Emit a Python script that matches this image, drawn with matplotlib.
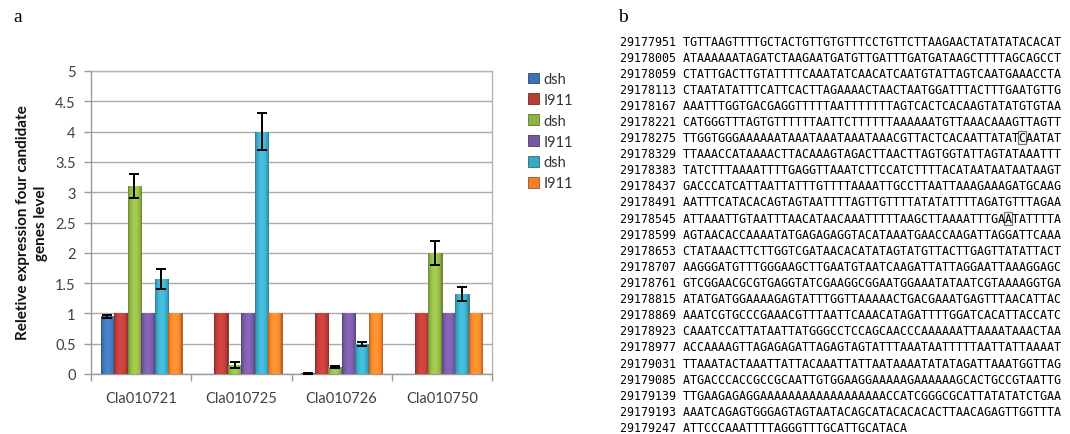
import matplotlib
matplotlib.use('Agg')
import matplotlib.pyplot as plt
import numpy as np
from matplotlib.patches import Rectangle, Patch
import matplotlib.colors as mcolors

# ---------------- data (panel a) ----------------
genes = ['Cla010721', 'Cla010725', 'Cla010726', 'Cla010750']
series_labels = ['dsh', 'I911', 'dsh', 'I911', 'dsh', 'I911']
series_colors = ['#3F72B0', '#B83C38', '#8FB244', '#7558A0', '#3BA6C2', '#F0812A']

dsh_1 = [0.95, 0.0, 0.01, 0.0]
i911_1 = [1.0, 1.0, 1.0, 1.0]
dsh_2 = [3.1, 0.15, 0.12, 2.0]
i911_2 = [1.0, 1.0, 1.0, 1.0]
dsh_3 = [1.57, 4.0, 0.5, 1.32]
i911_3 = [1.0, 1.0, 1.0, 1.0]

err_dsh_1 = [0.03, 0.0, 0.005, 0.0]
err_i911_1 = [0.0, 0.0, 0.0, 0.0]
err_dsh_2 = [0.2, 0.05, 0.02, 0.2]
err_i911_2 = [0.0, 0.0, 0.0, 0.0]
err_dsh_3 = [0.17, 0.3, 0.03, 0.12]
err_i911_3 = [0.0, 0.0, 0.0, 0.0]

yticks = [0, 0.5, 1, 1.5, 2, 2.5, 3, 3.5, 4, 4.5, 5]
ytick_labels = ['0', '0.5', '1', '1.5', '2', '2.5', '3', '3.5', '4', '4.5', '5']

# ---------------- data (panel b) ----------------
seq_starts = [29177951, 29178005, 29178059, 29178113, 29178167, 29178221,
              29178275, 29178329, 29178383, 29178437, 29178491, 29178545,
              29178599, 29178653, 29178707, 29178761, 29178815, 29178869,
              29178923, 29178977, 29179031, 29179085, 29179139, 29179193,
              29179247]
seq_lines = [
    'TGTTAAGTTTTGCTACTGTTGTGTTTCCTGTTCTTAAGAACTATATATACACAT',
    'ATAAAAAATAGATCTAAGAATGATGTTGATTTGATGATAAGCTTTTAGCAGCCT',
    'CTATTGACTTGTATTTTCAAATATCAACATCAATGTATTAGTCAATGAAACCTA',
    'CTAATATATTTCATTCACTTAGAAAACTAACTAATGGATTTACTTTGAATGTTG',
    'AAATTTGGTGACGAGGTTTTTAATTTTTTTAGTCACTCACAAGTATATGTGTAA',
    'CATGGGTTTAGTGTTTTTTAATTCTTTTTTAAAAAATGTTAAACAAAGTTAGTT',
    'TTGGTGGGAAAAAATAAATAAATAAATAAACGTTACTCACAATTATATCAATAT',
    'TTAAACCATAAAACTTACAAAGTAGACTTAACTTAGTGGTATTAGTATAAATTT',
    'TATCTTTAAAATTTTGAGGTTAAATCTTCCATCTTTTACATAATAATAATAAGT',
    'GACCCATCATTAATTATTTGTTTTAAAATTGCCTTAATTAAAGAAAGATGCAAG',
    'AATTTCATACACAGTAGTAATTTTAGTTGTTTTATATATTTTAGATGTTTAGAA',
    'ATTAAATTGTAATTTAACATAACAAATTTTTAAGCTTAAAATTTGAATATTTTA',
    'AGTAACACCAAAATATGAGAGAGGTACATAAATGAACCAAGATTAGGATTCAAA',
    'CTATAAACTTCTTGGTCGATAACACATATAGTATGTTACTTGAGTTATATTACT',
    'AAGGGATGTTTGGGAAGCTTGAATGTAATCAAGATTATTAGGAATTAAAGGAGC',
    'GTCGGAACGCGTGAGGTATCGAAGGCGGAATGGAAATATAATCGTAAAAGGTGA',
    'ATATGATGGAAAAGAGTATTTGGTTAAAAACTGACGAAATGAGTTTAACATTAC',
    'AAATCGTGCCCGAAACGTTTAATTCAAACATAGATTTTGGATCACATTACCATC',
    'CAAATCCATTATAATTATGGGCCTCCAGCAACCCAAAAAATTAAAATAAACTAA',
    'ACCAAAAGTTAGAGAGATTAGAGTAGTATTTAAATAATTTTTAATTATTAAAAT',
    'TTAAATACTAAATTATTACAAATTATTAATAAAATATATAGATTAAATGGTTAG',
    'ATGACCCACCGCCGCAATTGTGGAAGGAAAAAGAAAAAAGCACTGCCGTAATTG',
    'TTGAAGAGAGGAAAAAAAAAAAAAAAAAACCATCGGGCGCATTATATATCTGAA',
    'AAATCAGAGTGGGAGTAGTAATACAGCATACACACACTTAACAGAGTTGGTTTA',
    'ATTCCCAAATTTTAGGGTTTGCATTGCATACA',
]
boxed_rows = [6, 11]
boxed_cols = [48, 46]

# ---------------- figure ----------------
W, H, DPI = 1070, 435, 100
fig = plt.figure(figsize=(W / DPI, H / DPI), dpi=DPI)
fig.patch.set_facecolor('white')

def px(x, y):
    return x / W, 1 - y / H

# panel letters
fig.text(*px(13, 17), 'a', family='Liberation Serif', fontsize=14, va='center', ha='left')
fig.text(*px(618, 17), 'b', family='Liberation Serif', fontsize=14, va='center', ha='left')

# ---------------- panel a ----------------
l, b = px(91, 375)
r, t = px(492, 72)
ax = fig.add_axes([l, b, r - l, t - b])

series_vals = [dsh_1, i911_1, dsh_2, i911_2, dsh_3, i911_3]
series_errs = [err_dsh_1, err_i911_1, err_dsh_2, err_i911_2, err_dsh_3, err_i911_3]
x = np.arange(len(genes))
bw = 0.135
ax.set_xlim(-0.5, len(genes) - 0.5)
ax.set_ylim(0, 5)

for i, (vals, errs, col) in enumerate(zip(series_vals, series_errs, series_colors)):
    pos = x + (i - 2.5) * bw
    base = np.array(mcolors.to_rgb(col))
    dark = base * 0.65
    bars = ax.bar(pos, vals, width=bw, color=col, edgecolor=dark, linewidth=0.6, zorder=3)
    # horizontal bevel-like shading
    tt = np.linspace(0, 1, 64)
    prof = 0.66 + 0.50 * np.sin(np.pi * tt) ** 0.5
    grad = np.clip(base[None, :] * prof[:, None], 0, 1)[None, :, :]
    for bar in bars:
        if bar.get_height() <= 0:
            continue
        x0 = bar.get_x(); w = bar.get_width(); h = bar.get_height()
        im = ax.imshow(grad, extent=(x0, x0 + w, 0, h), aspect='auto', zorder=3.5,
                       interpolation='bilinear')
        im.set_clip_path(bar)
    mask = np.array(errs) > 0
    ax.errorbar(pos[mask], np.array(vals)[mask], yerr=np.array(errs)[mask], fmt='none',
                ecolor='black', elinewidth=1.4, capsize=3.5, capthick=1.4, zorder=5)

ax.set_yticks(yticks)
ax.set_yticklabels(ytick_labels, family='Lato', fontsize=10.5, color='#404040')
ax.yaxis.grid(True, color='#ababab', linewidth=1.0, zorder=0)
ax.set_axisbelow(True)
ax.tick_params(axis='y', length=5, width=1, color='#9a9a9a', pad=6)

ax.set_xticks(np.arange(len(genes) + 1) - 0.5)
ax.set_xticklabels([])
ax.set_xticks(x, minor=True)
ax.set_xticklabels(genes, minor=True, family='Lato', fontsize=10.5, color='#404040')
ax.tick_params(axis='x', which='major', length=5, width=1, color='#9a9a9a', direction='out')
ax.tick_params(axis='x', which='minor', length=0, pad=12)

for s in ['left', 'bottom']:
    ax.spines[s].set_color('#9a9a9a')
    ax.spines[s].set_linewidth(1.0)
for s in ['top', 'right']:
    ax.spines[s].set_color('#b5b5b5')
    ax.spines[s].set_linewidth(1.0)

fig.text(*px(32, 223), 'Reletive expression four candidate\ngenes level', rotation=90,
         family='Lato', fontweight='bold', fontsize=11, ha='center', va='center',
         multialignment='center', linespacing=1.35, color='#111111')

handles = [Patch(facecolor=c, edgecolor=np.array(mcolors.to_rgb(c)) * 0.65, linewidth=0.6)
           for c in series_colors]
fig.legend(handles, series_labels, loc='upper left', bbox_to_anchor=px(528, 73),
           frameon=False, prop={'family': 'Lato', 'size': 10.5}, labelcolor='#333333',
           handlelength=0.75, handleheight=0.75, handletextpad=0.3, labelspacing=0.47,
           borderaxespad=0, borderpad=0)

# ---------------- panel b ----------------
fs = 8.37
adv = 0.60205 * fs * DPI / 72.0   # char advance in pixels (DejaVu Sans Mono)
x_num = 620
y0 = 42
dy = 16.1
for k, (num, seq) in enumerate(zip(seq_starts, seq_lines)):
    yy = y0 + k * dy
    fig.text(*px(x_num, yy), f'{num} {seq}', family='DejaVu Sans Mono', fontsize=fs,
             va='center', ha='left', color='#000000')

for rr, cc in zip(boxed_rows, boxed_cols):
    yy = y0 + rr * dy
    xs = x_num + (9 + cc) * adv
    bx, by = px(xs - 0.5, yy + 6.5)
    fig.add_artist(Rectangle((bx, by), (adv + 1) / W, 13 / H, transform=fig.transFigure,
                             fill=False, edgecolor='#777777', linewidth=0.9))

fig.savefig('out.png', dpi=DPI, facecolor='white')
